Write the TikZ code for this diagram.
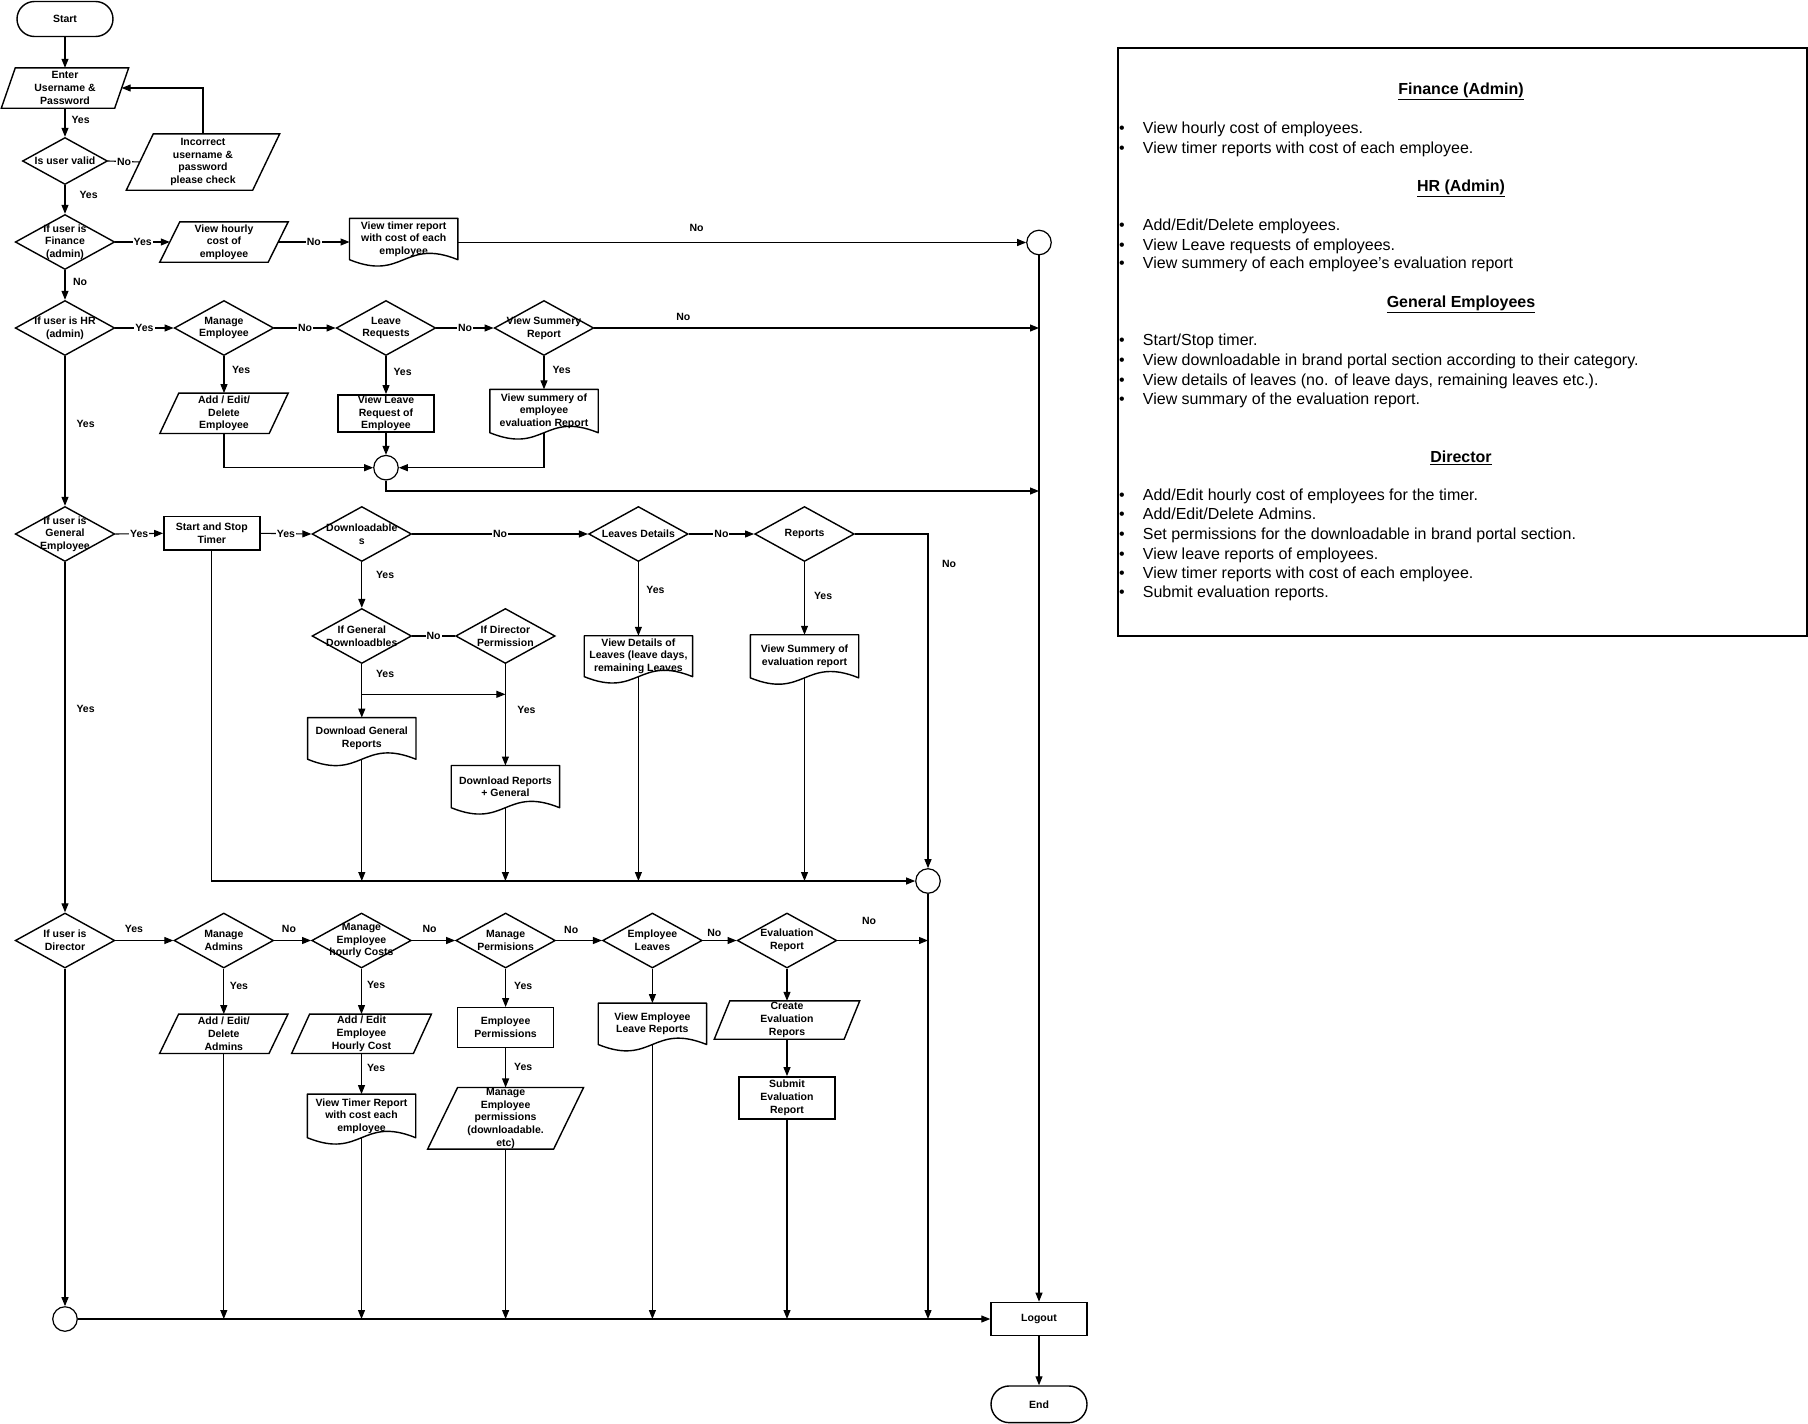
\documentclass[tikz,border=0pt]{standalone}
\usepackage{fontspec}
\setmainfont{Liberation Sans}
\usetikzlibrary{shapes.geometric,shapes.misc,arrows.meta,calc}
\newcommand\chartfont{\bfseries\fontsize{10.5pt}{12.6pt}\selectfont}
\newcommand\notefont{\fontsize{16pt}{19.6pt}\selectfont}
\tikzset{
  outline/.style={draw, line width=1.4pt},
  txt/.style={font=\chartfont, align=center, inner sep=0pt},
  term/.style={outline, rounded rectangle, minimum width=96pt, minimum height=35pt, txt},
  process/.style={outline, rectangle, minimum width=96pt, minimum height=37pt, txt},
  decision/.style={outline, diamond, minimum width=99.5pt, minimum height=55pt, inner sep=0pt},
  % input/output box: the node spans the mid-line of the slanted sides,
  % #1 is half the horizontal slant of the sides
  io/.style={rectangle, minimum width=109pt, minimum height=40pt, txt,
    append after command={\pgfextra{\draw[line width=1.4pt, line join=miter]
      ([xshift=#1]\tikzlastnode.north west) -- ([xshift=#1]\tikzlastnode.north east)
      -- ([xshift=-#1]\tikzlastnode.south east) -- ([xshift=-#1]\tikzlastnode.south west)
      -- cycle;}}},
  io/.default=9.5pt,
  junction/.style={draw, line width=1.2pt, circle, minimum size=24.5pt, inner sep=0pt},
  docu/.style={rectangle, minimum width=108pt, minimum height=42pt, txt,
    append after command={\pgfextra{\draw[line width=1.4pt, line join=round]
      (\tikzlastnode.south west) -- (\tikzlastnode.north west) -- (\tikzlastnode.north east)
      -- (\tikzlastnode.south east)
      .. controls ([yshift=22pt]\tikzlastnode.south) and ([yshift=-22pt]\tikzlastnode.south)
      .. (\tikzlastnode.south west) -- cycle;}}},
  conn/.style={line width=1.1pt, -{Triangle[length=9pt,width=7pt]}},
  link/.style={line width=1.1pt},
  tag/.style={font=\chartfont, inner sep=1pt},
  onl/.style={tag, fill=white},
  rtag/.style={tag, anchor=west, xshift=#1},
  rtag/.default=6pt,
  atag/.style={tag, anchor=south, yshift=#1},
  atag/.default=5pt,
  notehead/.style={font=\notefont\bfseries, anchor=base, inner sep=0pt},
  noteitem/.style={font=\notefont, anchor=base west, inner sep=0pt},
}
\newcommand\bul{\makebox[23.7pt][l]{\textbullet}}
\begin{document}
\begin{tikzpicture}[x=1pt,y=-1pt]
\useasboundingbox (0,0) rectangle (1808,1424);

% ---------- login ----------
\node[term] (start) at (65,19) {Start};
\node[io=7pt, minimum width=113pt] (enter) at (65,88) {Enter\\Username \&\\Password};
\node[decision, minimum width=85pt, minimum height=47pt,
  label={[txt]center:Is user valid}] (valid) at (65,161) {};
\node[io=13.5pt, minimum width=126pt, minimum height=56pt] (incorrect) at (203,162)
  {Incorrect\\username \&\\password\\please check};

% ---------- finance ----------
\node[decision, label={[txt]center:If user is\\Finance\\(admin)}] (fin) at (65,242) {};
\node[io=10pt, minimum width=108pt] (hourly) at (224,242) {View hourly\\cost of\\employee};
\node[docu, minimum height=41pt] (ftimer) at (403.7,239) {View timer report\\with cost of each\\employee};
\node[junction] (fcirc) at (1039,242.5) {};

% ---------- HR ----------
\node[decision, label={[txt]center:If user is HR\\(admin)}] (hr) at (65,328) {};
\node[decision, label={[txt]center:Manage\\Employee}] (mgemp) at (224,328) {};
\node[decision, label={[txt]center:Leave\\Requests}] (leave) at (386,328) {};
\node[decision, label={[txt]center:View Summery\\Report}] (summ) at (544,328) {};
\node[io] (addemp) at (224,413.3) {Add / Edit/\\Delete\\Employee};
\node[process] (viewleave) at (386,413.3) {View Leave\\Request of\\Employee};
\node[docu, minimum height=43pt] (summdoc) at (544,411) {View summery of\\employee\\evaluation Report};
\node[junction] (hrcirc) at (386,467.7) {};
\coordinate (hrjoin) at (fcirc |- 0,491);

% ---------- general employee ----------
\node[decision, label={[txt]center:If user is\\General\\Employee}] (gen) at (65,534) {};
\node[process, minimum height=33.3pt] (sst) at (211.8,533.3) {Start and Stop\\Timer};
\node[decision, label={[txt]center:Downloadable\\s}] (down) at (361.8,534) {};
\node[decision, label={[txt]center:Leaves Details}] (ldet) at (638.4,534) {};
\node[decision, label={[txt]center:Reports}] (rep) at (804.5,534) {};
\node[decision, label={[txt]center:If General\\Downloadbles}] (igd) at (361.8,636) {};
\node[decision, label={[txt]center:If Director\\Permission}] (idp) at (505.4,636) {};
\node[docu, minimum height=41.3pt] (dgr) at (361.8,738.4) {Download General\\Reports};
\node[docu, minimum height=41.8pt] (drg) at (505.4,786.6) {Download Reports\\+ General};
\node[docu, minimum height=40.5pt] (vdl) at (638.4,656.2) {View Details of\\Leaves (leave days,\\remaining Leaves};
\node[docu, minimum height=42.7pt] (vse) at (804.5,656.3) {View Summery of\\evaluation report};
\node[junction] (gcirc) at (928,881) {};
\coordinate (split) at (igd.south |- 0,694.3);

% ---------- director ----------
\node[decision, label={[txt]center:If user is\\Director}] (dir) at (65,940.5) {};
\node[decision, label={[txt]center:Manage\\Admins}] (madm) at (223.8,940.5) {};
\node[decision, label={[txt]center:Manage\\Employee\\hourly Costs}] (mgh) at (361.5,940.5) {};
\node[decision, label={[txt]center:Manage\\Permisions}] (mperm) at (505.6,940.5) {};
\node[decision, label={[txt]center:Employee\\Leaves}] (eleave) at (652.4,940.5) {};
\node[decision, label={[txt]center:Evaluation\\Report}] (eval) at (787,940.5) {};
\node[io, minimum height=39pt] (aadm) at (223.8,1033.8) {Add / Edit/\\Delete\\Admins};
\node[io=9pt, minimum width=121.4pt, minimum height=39pt] (ahc) at (361.5,1033.8)
  {Add / Edit\\Employee\\Hourly Cost};
\node[docu, minimum height=43.2pt] (vtr) at (361.5,1115.9) {View Timer Report\\with cost each\\employee};
\node[process, minimum height=39.6pt] (eperm) at (505.6,1027.5) {Employee\\Permissions};
\node[io=15pt, minimum width=125.6pt, minimum height=61.3pt] (mep) at (505.6,1118.3)
  {Manage\\Employee\\permissions\\(downloadable.\\etc)};
\node[docu, minimum height=41pt] (velr) at (652.4,1023.8) {View Employee\\Leave Reports};
\node[io=7.8pt, minimum width=129.5pt, minimum height=38pt] (cer) at (787,1020)
  {Create\\Evaluation\\Repors};
\node[process, minimum height=42pt] (ser) at (787,1097.8) {Submit\\Evaluation\\Report};

% ---------- exit ----------
\node[junction] (bcirc) at (65,1319) {};
\node[process, minimum height=33.3pt] (logout) at (1039,1319) {Logout};
\node[term, minimum height=36.7pt] (stop) at (1039,1404.3) {End};

% ---------- connectors: login and finance ----------
\draw[conn] (start.south) -- (enter.north);
\draw[conn] (enter.south) -- node[rtag=5pt, pos=0.41]{Yes} (valid.north);
\draw[link] (valid.east) -- node[onl]{No} (incorrect.west);
\draw[conn] (incorrect.north) |- (enter.east);
\draw[conn] (valid.south) -- node[rtag=13pt, pos=0.34]{Yes} (fin.north);
\draw[conn] (fin.east) -- node[onl]{Yes} (hourly.west);
\draw[conn] (hourly.east) -- node[onl]{No} (hourly.east -| ftimer.west);
\draw[conn] (ftimer.east |- fcirc.west) -- node[atag=9pt, pos=0.42]{No} (fcirc.west);

% ---------- connectors: HR ----------
\draw[conn] (fin.south) -- node[rtag=6.5pt, pos=0.4]{No} (hr.north);
\draw[conn] (hr.east) -- node[onl]{Yes} (mgemp.west);
\draw[conn] (mgemp.east) -- node[onl]{No} (leave.west);
\draw[conn] (leave.east) -- node[onl]{No} (summ.west);
\draw[conn] (summ.east) -- node[atag=5.5pt, pos=0.2]{No} (summ.east -| fcirc);
\draw[conn] (mgemp.south) -- node[rtag=6.5pt, pos=0.37]{Yes} (addemp.north);
\draw[conn] (leave.south) -- node[rtag=6pt, pos=0.42]{Yes} (viewleave.north);
\draw[conn] (summ.south) -- node[rtag=7pt, pos=0.41]{Yes} (summdoc.north);
\draw[conn] (addemp.south) |- (hrcirc.west);
\draw[conn] (summdoc.south) |- (hrcirc.east);
\draw[conn] (viewleave.south) -- (hrcirc.north);
\draw[conn] (hrcirc.south) |- (hrjoin);
\draw[conn] (hr.south) -- node[rtag=10pt, pos=0.45]{Yes} (gen.north);

% ---------- connectors: general employee ----------
\draw[conn] (gen.east) -- node[onl]{Yes} (sst.west);
\draw[conn] (sst.east) -- node[onl]{Yes} (down.west);
\draw[conn] (down.east) -- node[onl]{No} (ldet.west);
\draw[conn] (ldet.east) -- node[onl]{No} (rep.west);
\draw[conn] (rep.east) -| node[rtag=12.5pt, pos=0.545]{No} (gcirc.north);
\draw[conn] (down.south) -- node[rtag=12.7pt, pos=0.29]{Yes} (igd.north);
\draw[link] (igd.east) -- node[onl]{No} (idp.west);
\draw[conn] (igd.south) -- node[rtag=12.7pt, pos=0.19]{Yes} (dgr.north);
\draw[conn] (split) -- (split -| idp.south);
\draw[conn] (idp.south) -- node[rtag=10.5pt, pos=0.45]{Yes} (drg.north);
\draw[conn] (ldet.south) -- node[rtag=6.5pt, pos=0.38]{Yes} (vdl.north);
\draw[conn] (rep.south) -- node[rtag=8pt, pos=0.46]{Yes} (vse.north);
\draw[conn] (sst.south) |- (gcirc.west);
\foreach \n in {dgr,drg,vdl,vse} \draw[conn] (\n.south) -- (\n.south |- gcirc);
\draw[conn] (gen.south) -- node[rtag=10pt, pos=0.42]{Yes} (dir.north);
\draw[conn] (gcirc.south) -- (gcirc.south |- bcirc);

% ---------- connectors: director ----------
\draw[conn] (dir.east) -- node[atag=6pt, pos=0.32]{Yes} (madm.west);
\draw[conn] (madm.east) -- node[atag=6pt, pos=0.4]{No} (mgh.west);
\draw[conn] (mgh.east) -- node[atag=6pt, pos=0.41]{No} (mperm.west);
\draw[conn] (mperm.east) -- node[atag=5pt, pos=0.33]{No} (eleave.west);
\draw[conn] (eleave.east) -- node[atag=2pt, pos=0.34]{No} (eval.west);
\draw[conn] (eval.east) -- node[atag=14pt, pos=0.35]{No} (eval.east -| gcirc);
\draw[conn] (madm.south) -- node[rtag=4.5pt, pos=0.38]{Yes} (aadm.north);
\draw[conn] (mgh.south) -- node[rtag=4pt, pos=0.36]{Yes} (ahc.north);
\draw[conn] (ahc.south) -- node[rtag=4pt, pos=0.35]{Yes} (vtr.north);
\draw[conn] (mperm.south) -- node[rtag=7pt, pos=0.45]{Yes} (eperm.north);
\draw[conn] (eperm.south) -- node[rtag=7pt, pos=0.48]{Yes} (mep.north);
\draw[conn] (eleave.south) -- (velr.north);
\draw[conn] (eval.south) -- (cer.north);
\draw[conn] (cer.south) -- (ser.north);
\foreach \n in {aadm,vtr,mep,velr,ser} \draw[conn] (\n.south) -- (\n.south |- bcirc);
\draw[conn] (dir.south) -- (bcirc.north);

% ---------- connectors: exit ----------
\draw[conn] (bcirc.east) -- (logout.west);
\draw[conn] (fcirc.south) -- (logout.north);
\draw[conn] (logout.south) -- (stop.north);

% ---------- role summary panel ----------
\node[draw, line width=1.2pt, anchor=north west, inner sep=0pt,
  minimum width=689pt, minimum height=588pt] (notes) at (1117.4,47.3) {};
\node[notehead] (h1) at (1461,94.4) {\underline{Finance (Admin)}};
\node[noteitem] (f1) at (1119,133.6) {\bul View hourly cost of employees.};
\node[noteitem] (f2) at (1119,153.2) {\bul View timer reports with cost of each employee.};
\node[notehead] (h2) at (1461,191.2) {\underline{HR (Admin)}};
\node[noteitem] (r1) at (1119,230.5) {\bul Add/Edit/Delete employees.};
\node[noteitem] (r2) at (1119,250.1) {\bul View Leave requests of employees.};
\node[noteitem] (r3) at (1119,268.5) {\bul View summery of each employee’s evaluation report};
\node[notehead] (h3) at (1461,307.7) {\underline{General Employees}};
\node[noteitem] (g1) at (1119,345.8) {\bul Start/Stop timer.};
\node[noteitem] (g2) at (1119,365.4) {\bul View downloadable in brand portal section according to their category.};
\node[noteitem] (g3) at (1119,385) {\bul View details of leaves (no. of leave days, remaining leaves etc.).};
\node[noteitem] (g4) at (1119,404.6) {\bul View summary of the evaluation report.};
\node[notehead] (h4) at (1461,462.2) {\underline{Director}};
\node[noteitem] (d1) at (1119,500.3) {\bul Add/Edit hourly cost of employees for the timer.};
\node[noteitem] (d2) at (1119,519.9) {\bul Add/Edit/Delete Admins.};
\node[noteitem] (d3) at (1119,539.5) {\bul Set permissions for the downloadable in brand portal section.};
\node[noteitem] (d4) at (1119,559.1) {\bul View leave reports of employees.};
\node[noteitem] (d5) at (1119,578.7) {\bul View timer reports with cost of each employee.};
\node[noteitem] (d6) at (1119,597.1) {\bul Submit evaluation reports.};
\end{tikzpicture}
\end{document}
